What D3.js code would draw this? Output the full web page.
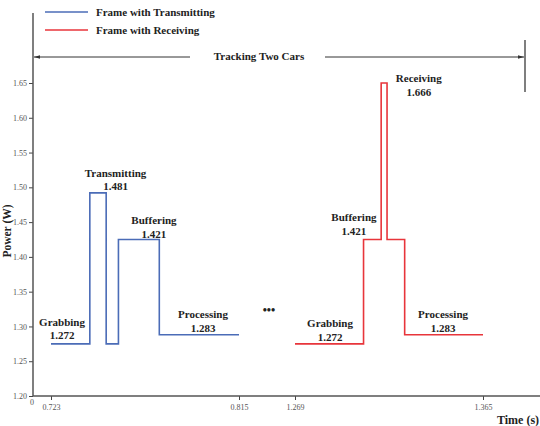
<!DOCTYPE html>
<meta charset="utf-8">
<title>Power per frame</title>
<style>
  body { margin: 0; background: #fff; }
  .lbl { font: bold 11px "Liberation Serif", "Times New Roman", serif; fill: #222; }
  .tick text { font: 8px "Liberation Serif", serif; fill: #555; }
  .tick line { stroke: #444; }
</style>
<body>
<svg width="540" height="426" id="chart"></svg>
<script src="https://cdnjs.cloudflare.com/ajax/libs/d3/7.8.5/d3.min.js"></script>
<script>
// step data (time in s, power in W)
var blueTimes  = [0.723, 0.742, 0.750, 0.756, 0.776, 0.815];
var blueLevels = [1.275, 1.492, 1.275, 1.425, 1.288, 1.288];
var redTimes   = [1.269, 1.304, 1.313, 1.316, 1.325, 1.365];
var redLevels  = [1.275, 1.425, 1.650, 1.425, 1.288, 1.288];

var xTicks = [0.723, 0.815, 1.269, 1.365];
var yTicks = [1.20, 1.25, 1.30, 1.35, 1.40, 1.45, 1.50, 1.55, 1.60, 1.65];

// annotations: name, value text, anchor time, anchor power
var blueNotes = [
  ["Grabbing", "1.272", 0.7284, 1.301],
  ["Transmitting", "1.481", 0.7546, 1.515],
  ["Buffering", "1.421", 0.7734, 1.447],
  ["Processing", "1.283", 0.7974, 1.312]
];
var redNotes = [
  ["Grabbing", "1.272", 1.2869, 1.299],
  ["Buffering", "1.421", 1.2991, 1.451],
  ["Receiving", "1.666", 1.3322, 1.651],
  ["Processing", "1.283", 1.3446, 1.312]
];

var svg = d3.select("#chart");
var x = d3.scaleLinear()
    .domain(xTicks)
    .range([51, 239, 295, 483]);
var y = d3.scaleLinear()
    .domain([1.20, 1.65])
    .range([396, 83]);

var axisColor = "#555";

// axes
var gx = svg.append("g").attr("transform", "translate(0,396)")
    .call(d3.axisBottom(x).tickValues(xTicks).tickSize(4).tickFormat(d3.format(".3f")));
gx.select(".domain").remove();
gx.selectAll(".tick text").attr("dy", "0.9em");

var gy = svg.append("g").attr("transform", "translate(33,0)")
    .call(d3.axisLeft(y).tickValues(yTicks).tickSize(4).tickPadding(2).tickFormat(d3.format(".2f")));
gy.select(".domain").remove();

svg.append("line").attr("x1", 33).attr("x2", 540).attr("y1", 396).attr("y2", 396)
    .attr("stroke", axisColor).attr("stroke-width", 1.5);
svg.append("line").attr("x1", 33).attr("x2", 33).attr("y1", 13).attr("y2", 396)
    .attr("stroke", axisColor).attr("stroke-width", 1.5);

svg.append("text").attr("x", 32).attr("y", 405)
    .attr("text-anchor", "middle")
    .style("font", "8px 'Liberation Serif', serif").attr("fill", "#555").text("0");

svg.append("text").attr("class", "lbl").attr("transform", "translate(11,231) rotate(-90)")
    .attr("text-anchor", "middle").style("font-size", "11.5px").text("Power (W)");
svg.append("text").attr("class", "lbl").attr("x", 497).attr("y", 424)
    .style("font-size", "12px").text("Time (s)");

// step lines
var line = d3.line()
    .x(function(d) { return x(d[0]); })
    .y(function(d) { return y(d[1]); })
    .curve(d3.curveStepAfter);

svg.append("path").datum(d3.zip(blueTimes, blueLevels))
    .attr("d", line).attr("fill", "none")
    .attr("stroke", "#4b6cb7").attr("stroke-width", 1.6);
svg.append("path").datum(d3.zip(redTimes, redLevels))
    .attr("d", line).attr("fill", "none")
    .attr("stroke", "#e8353b").attr("stroke-width", 1.6);

// labels
function notes(arr) {
  arr.forEach(function(n) {
    var t = svg.append("text").attr("class", "lbl").attr("text-anchor", "middle")
        .attr("x", x(n[2])).attr("y", y(n[3]));
    t.append("tspan").attr("x", x(n[2])).text(n[0]);
    t.append("tspan").attr("x", x(n[2])).attr("dy", 13.5).text(n[1]);
  });
}
notes(blueNotes);
notes(redNotes);

svg.append("text").attr("class", "lbl").attr("x", x(1.058)).attr("y", 314)
    .attr("text-anchor", "middle").style("font-size", "12px").text("\u2022\u2022\u2022");

// legend
var legend = [["Frame with Transmitting", "#4b6cb7"], ["Frame with Receiving", "#e8353b"]];
legend.forEach(function(l, i) {
  var yy = 12 + i * 18;
  svg.append("line").attr("x1", 45).attr("x2", 88).attr("y1", yy).attr("y2", yy)
      .attr("stroke", l[1]).attr("stroke-width", 1.6);
  svg.append("text").attr("class", "lbl").attr("x", 96).attr("y", yy + 4).text(l[0]);
});

// tracking span arrow
svg.append("defs").append("marker").attr("id", "ah")
    .attr("viewBox", "0 0 10 10").attr("refX", 10).attr("refY", 5)
    .attr("markerWidth", 6).attr("markerHeight", 6).attr("orient", "auto-start-reverse")
    .append("path").attr("d", "M0,2L10,5L0,8z").attr("fill", "#333");
svg.append("line").attr("x1", 34).attr("x2", 190).attr("y1", 57).attr("y2", 57)
    .attr("stroke", "#333").attr("stroke-width", 1).attr("marker-start", "url(#ah)");
svg.append("line").attr("x1", 325).attr("x2", 524).attr("y1", 57).attr("y2", 57)
    .attr("stroke", "#333").attr("stroke-width", 1).attr("marker-end", "url(#ah)");
svg.append("line").attr("x1", 525).attr("x2", 525).attr("y1", 40).attr("y2", 92)
    .attr("stroke", "#555").attr("stroke-width", 1.5);
svg.append("text").attr("class", "lbl").attr("x", 259).attr("y", 60)
    .attr("text-anchor", "middle").text("Tracking Two Cars");
</script>
</body>
